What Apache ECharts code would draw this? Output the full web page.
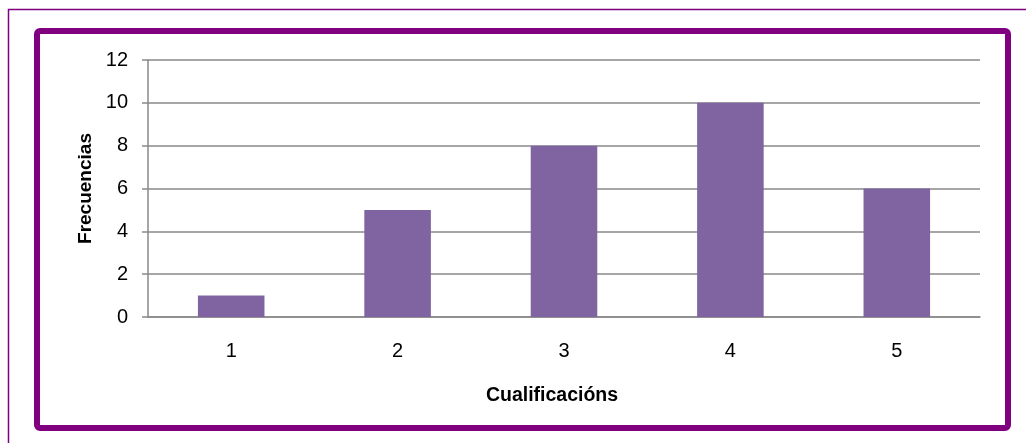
<!DOCTYPE html>
<html>
<head>
<meta charset="utf-8">
<script src="https://cdn.jsdelivr.net/npm/echarts@6/dist/echarts.min.js"></script>
<style>
  html, body { margin: 0; padding: 0; background: #ffffff; }
  #chart { width: 1026px; height: 443px; }
</style>
</head>
<body>
<div id="chart"></div>
<script>
// Grades (categories) and how many times each was given
const categories = ['1', '2', '3', '4', '5'];
const frequencies = [1, 5, 8, 10, 6];
const yTicks = [0, 2, 4, 6, 8, 10, 12];

const xTitle = 'Cualificacións';
const yTitle = 'Frecuencias';

const FONT = '"Liberation Sans", Arial, sans-serif';
const PURPLE = '#800080';
const BAR = '#8064A2';
const GRID = '#898989';

const chart = echarts.init(document.getElementById('chart'), null, { renderer: 'canvas' });

chart.setOption({
  animation: false,
  backgroundColor: '#ffffff',
  grid: { left: 148, right: 46, top: 60, bottom: 126, containLabel: false },
  xAxis: {
    type: 'category',
    data: categories,
    name: xTitle,
    nameLocation: 'middle',
    nameGap: 69,
    nameTextStyle: { fontFamily: FONT, fontSize: 19.5, fontWeight: 'bold', color: '#000', padding: [0, 24, 0, 0] },
    axisLine: { show: true, lineStyle: { color: GRID, width: 1.5 } },
    axisTick: { show: false },
    axisLabel: { margin: 24, fontFamily: FONT, fontSize: 20, color: '#000' }
  },
  yAxis: {
    type: 'value',
    min: yTicks[0],
    max: yTicks[yTicks.length - 1],
    interval: yTicks[1] - yTicks[0],
    name: yTitle,
    nameLocation: 'middle',
    nameRotate: 90,
    nameGap: 52,
    nameTextStyle: { fontFamily: FONT, fontSize: 19, fontWeight: 'bold', color: '#000' },
    axisLine: { show: true, lineStyle: { color: GRID, width: 1.5 } },
    axisTick: { show: true, inside: false, length: 6, lineStyle: { color: GRID, width: 1.5 } },
    axisLabel: { margin: 20, fontFamily: FONT, fontSize: 20, color: '#000' },
    splitLine: { show: true, lineStyle: { color: GRID, width: 1.5 } }
  },
  series: [{
    type: 'bar',
    data: frequencies,
    barWidth: '40%',
    itemStyle: { color: BAR }
  }],
  graphic: [
    {
      type: 'rect',
      shape: { x: 8.5, y: 9.5, width: 1200, height: 600 },
      style: { fill: 'none', stroke: PURPLE, lineWidth: 1.5 },
      silent: true
    },
    {
      type: 'rect',
      shape: { x: 37, y: 31, width: 971, height: 397, r: 3 },
      style: { fill: 'none', stroke: PURPLE, lineWidth: 6 },
      silent: true
    }
  ]
});
</script>
</body>
</html>
